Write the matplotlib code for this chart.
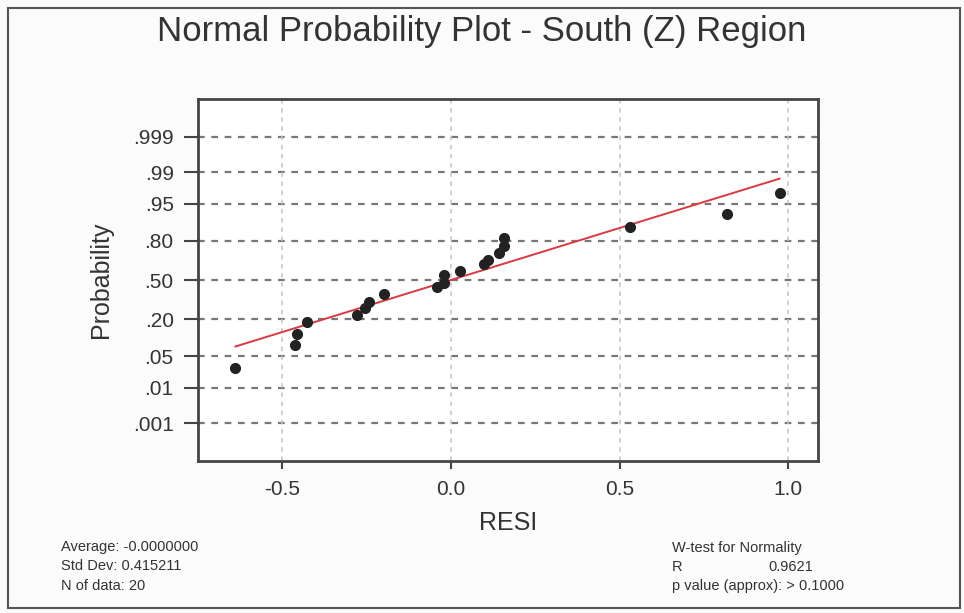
from statistics import NormalDist

import matplotlib
matplotlib.use("Agg")
import matplotlib.pyplot as plt
import numpy as np
from matplotlib.patches import Rectangle

# residuals (RESI)
resi = [-0.639, -0.463, -0.457, -0.427, -0.280, -0.256, -0.242, -0.198, -0.042, -0.020,
        -0.020, 0.028, 0.097, 0.111, 0.143, 0.156, 0.156, 0.531, 0.819, 0.974]
# plotted probability of each point
prob = [0.029, 0.081, 0.123, 0.184, 0.224, 0.274, 0.319, 0.382, 0.440, 0.474,
        0.540, 0.573, 0.635, 0.666, 0.719, 0.770, 0.819, 0.875, 0.924, 0.970]

# fitted normal line
line_mu = 0.0
line_sigma = 0.446

prob_ticks = [0.001, 0.01, 0.05, 0.20, 0.50, 0.80, 0.95, 0.99, 0.999]
prob_labels = [".001", ".01", ".05", ".20", ".50", ".80", ".95", ".99", ".999"]
x_ticks = [-0.5, 0.0, 0.5, 1.0]
x_labels = ["-0.5", "0.0", "0.5", "1.0"]

stats_left = ["Average: -0.0000000", "Std Dev: 0.415211", "N of data: 20"]
stats_right = ["W-test for Normality", "R", "p value (approx): > 0.1000"]
r_value = "0.9621"

nd = NormalDist()
z_pts = np.array([nd.inv_cdf(p) for p in prob])
z_ticks = [nd.inv_cdf(p) for p in prob_ticks]

plt.rcParams["font.family"] = ["Liberation Sans", "DejaVu Sans"]
txt = "#333333"
axc = "#454545"

fig = plt.figure(figsize=(9.64, 6.13), dpi=100, facecolor="#fbfbfb")
ax = fig.add_axes([198 / 964, 1 - 461 / 613, 620 / 964, 362 / 613])
ax.set_facecolor("white")

# grid
for z in z_ticks:
    ax.axhline(z, color="#777777", lw=1.6, ls=(0, (3, 3)), zorder=1)
for xv in x_ticks:
    ax.axvline(xv, color="#c4c4c4", lw=1.1, ls=(0, (3, 3)), zorder=1)

# fitted line
xs = np.array([min(resi), max(resi)])
ax.plot(xs, (xs - line_mu) / line_sigma, color="#d9393f", lw=1.4, zorder=2)

# points
ax.plot(resi, z_pts, "o", color="#222222", ms=7, mec="#222222", zorder=3)

ax.set_xlim(-0.75, 1.088)
ax.set_ylim(-3.9, 3.9)
ax.set_yticks(z_ticks)
ax.set_yticklabels(prob_labels)
ax.set_xticks(x_ticks)
ax.set_xticklabels(x_labels)
ax.tick_params(axis="y", length=10, width=1.5, color=axc, labelsize=15,
               labelcolor=txt, pad=7.5)
ax.tick_params(axis="x", length=6, width=1.5, color=axc, labelsize=15,
               labelcolor=txt, pad=8)
for s in ax.spines.values():
    s.set_color(axc)
    s.set_linewidth(2)

ax.set_xlabel("RESI", fontsize=18, color=txt, labelpad=8)
ax.set_ylabel("Probability", fontsize=18, color=txt, labelpad=14)

fig.text(0.5, 1 - 31 / 613, "Normal Probability Plot - South (Z) Region",
         ha="center", va="center", fontsize=25, color=txt)

for i, s in enumerate(stats_left):
    fig.text(61 / 964, 1 - (547 + 19.5 * i) / 613, s, ha="left", va="center",
             fontsize=10.5, color=txt)
for i, s in enumerate(stats_right):
    fig.text(672 / 964, 1 - (548 + 19 * i) / 613, s, ha="left", va="center",
             fontsize=10.5, color=txt)
fig.text(768 / 964, 1 - 567 / 613, r_value, ha="left", va="center",
         fontsize=10.5, color=txt)

# outer frame
fig.patches.append(Rectangle((8 / 964, 1 - 608 / 613), 952 / 964, 600 / 613,
                             transform=fig.transFigure, fill=False,
                             edgecolor="#555555", lw=1.5))

fig.savefig("out.png", dpi=100, facecolor=fig.get_facecolor())
